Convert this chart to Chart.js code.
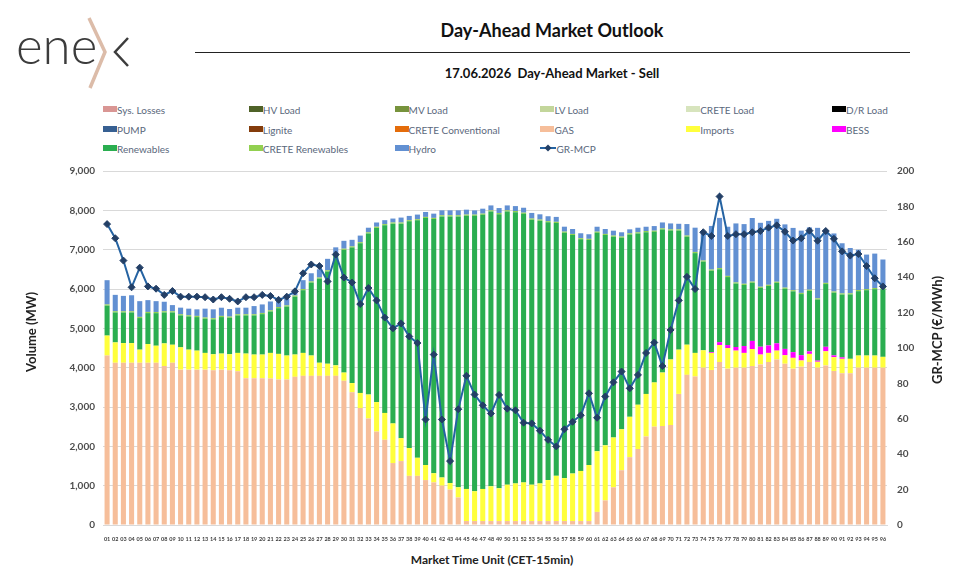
<!DOCTYPE html>
<html>
<head>
<meta charset="utf-8">
<script src="https://cdn.jsdelivr.net/npm/chart.js@4.4.1/dist/chart.umd.min.js"></script>
<style>
  body { margin: 0; width: 966px; height: 584px; background: #fff; position: relative; overflow: hidden; font-family: Lato, "Open Sans", sans-serif; }
  #logo { position: absolute; left: 0; top: 0; }
  #title { position: absolute; left: 352px; width: 400px; top: 19px; text-align: center; font-size: 18px; font-weight: bold; color: #111; }
  #rule { position: absolute; left: 195px; width: 715px; top: 52px; height: 0; border-top: 1px solid #222; }
  #subtitle { position: absolute; left: 352px; width: 400px; top: 65px; text-align: center; font-size: 13px; font-weight: bold; color: #111; white-space: pre; }
  .leg { position: absolute; font-size: 10px; color: #5a687c; white-space: nowrap; line-height: 12px; }
  .leg .sw { display: inline-block; width: 14px; height: 6px; vertical-align: 2px; }
  .leg svg { vertical-align: 1px; }
  #wrap { position: absolute; left: 0; top: 155px; }
  .ytitle { position: absolute; width: 160px; text-align: center; font-size: 13px; font-weight: bold; color: #222; transform: rotate(-90deg); }
  #xtitle { position: absolute; left: 342px; width: 300px; top: 552px; text-align: center; font-size: 12px; font-weight: bold; color: #222; }
</style>
</head>
<body>
<svg id="logo" width="140" height="100">
  <text x="16" y="64" font-family="Lato, 'Open Sans', sans-serif" font-weight="300" font-size="51" fill="#3c3c3c">ene</text>
  <polyline points="89,18 105,52 90,88" fill="none" stroke="#dcbca9" stroke-width="3.5"/>
  <polyline points="128,38 115,52 128,66" fill="none" stroke="#3c3c3c" stroke-width="2.5"/>
</svg>
<div id="title">Day-Ahead Market Outlook</div>
<div id="rule"></div>
<div id="subtitle">17.06.2026  Day-Ahead Market - Sell</div>
<div id="legend"></div>
<div id="wrap"><canvas id="damChart" width="966" height="390"></canvas></div>
<div class="ytitle" id="ylTitle" style="left:-49px; top:324px;">Volume (MW)</div>
<div class="ytitle" id="yrTitle" style="left:857px; top:322px;">GR-MCP (€/MWh)</div>
<div id="xtitle">Market Time Unit (CET-15min)</div>

<script>
const mtu = [];
for (let i = 1; i <= 96; i++) mtu.push(String(i).padStart(2, "0"));

const gas = [
  4308, 4125, 4125, 4125, 4125, 4125, 4125, 4042, 4125, 3950, 3950, 3950,
  3950, 3933, 3950, 3933, 3908, 3733, 3733, 3733, 3725, 3700, 3700, 3767,
  3792, 3792, 3792, 3792, 3792, 3667, 3375, 2975, 2708, 2375, 2167, 1575,
  1625, 1250, 1250, 1142, 1083, 1000, 900, 700, 100, 100, 100, 100,
  100, 100, 100, 100, 100, 100, 100, 100, 100, 100, 100, 100,
  333, 625, 958, 1392, 1725, 1933, 2250, 2500, 2517, 2542, 3333, 3817,
  3775, 4000, 3942, 4142, 3975, 4000, 4000, 4042, 4083, 4142, 4208, 4100,
  3975, 4025, 4142, 4000, 4058, 3917, 3858, 3858, 4000, 4000, 4000, 4000
];

const imports = [
  508, 517, 500, 500, 333, 475, 433, 575, 458, 567, 508, 483,
  425, 408, 408, 408, 467, 625, 600, 600, 650, 650, 608, 567,
  583, 517, 333, 308, 267, 208, 233, 383, 608, 750, 683, 1008,
  583, 708, 458, 383, 233, 208, 167, 259, 817, 758, 817, 883,
  833, 925, 958, 983, 925, 958, 1042, 1150, 1092, 1208, 1275, 1425,
  1542, 1400, 1267, 1042, 1025, 1125, 1083, 1125, 1358, 1667, 1125, 767,
  600, 442, 433, 433, 525, 433, 375, 433, 250, 233, 225, 217,
  275, 158, 208, 150, 358, 350, 367, 367, 308, 308, 308, 275
];

const bess = [
  0, 0, 0, 0, 0, 0, 0, 0, 0, 0, 0, 0,
  0, 0, 0, 0, 0, 0, 0, 0, 0, 0, 0, 0,
  0, 0, 0, 0, 0, 0, 0, 0, 0, 0, 0, 0,
  0, 0, 0, 0, 0, 0, 0, 0, 0, 0, 0, 0,
  0, 0, 0, 0, 0, 0, 0, 0, 0, 0, 0, 0,
  0, 0, 0, 0, 0, 0, 0, 0, 0, 0, 0, 0,
  0, 0, 20, 75, 75, 92, 175, 205, 200, 190, 185, 160,
  145, 135, 65, 30, 115, 45, 38, 0, 0, 0, 0, 0
];

const renewables = [
  761, 762, 778, 778, 803, 787, 828, 787, 820, 812, 845, 853,
  870, 887, 928, 928, 953, 970, 995, 1028, 1053, 1162, 1245, 1470,
  1595, 1853, 2137, 2345, 2828, 3120, 3445, 3803, 4095, 4428, 4770, 5078,
  5453, 5762, 6037, 6278, 6462, 6637, 6778, 6887, 6945, 7003, 6970, 6987,
  6970, 6945, 6895, 6828, 6737, 6678, 6553, 6428, 6237, 6062, 5887, 5720,
  5553, 5345, 5103, 4870, 4637, 4353, 4112, 3828, 3637, 3278, 3028, 2745,
  2537, 2253, 2070, 1853, 1728, 1612, 1553, 1478, 1495, 1512, 1537, 1528,
  1545, 1553, 1537, 1553, 1595, 1595, 1595, 1637, 1637, 1662, 1687, 1720
];

const creteRenewables = [
  30, 30, 30, 30, 30, 30, 30, 30, 30, 30, 30, 30,
  30, 30, 30, 30, 30, 30, 30, 30, 30, 30, 30, 30,
  30, 30, 30, 30, 30, 30, 30, 30, 30, 30, 30, 30,
  30, 30, 30, 30, 30, 30, 30, 30, 30, 30, 30, 30,
  30, 30, 30, 30, 30, 30, 30, 30, 30, 30, 30, 30,
  30, 30, 30, 30, 30, 30, 30, 30, 30, 30, 30, 30,
  30, 30, 30, 30, 30, 30, 30, 30, 30, 30, 30, 30,
  30, 30, 30, 30, 30, 30, 30, 30, 30, 30, 30, 30
];

const hydro = [
  617, 417, 392, 408, 400, 300, 275, 242, 158, 167, 167, 167,
  225, 225, 208, 192, 167, 167, 208, 217, 225, 150, 167, 80,
  225, 208, 208, 292, 142, 200, 167, 167, 117, 108, 100, 100,
  125, 108, 117, 125, 108, 125, 125, 125, 125, 108, 125, 125,
  125, 125, 125, 125, 142, 133, 125, 125, 125, 125, 125, 117,
  125, 125, 125, 108, 100, 117, 108, 117, 150, 150, 142, 292,
  617, 750, 1108, 1275, 1250, 1500, 1517, 1617, 1625, 1625, 1600, 1608,
  1583, 1583, 1583, 1792, 1333, 1475, 1275, 1150, 1025, 875, 875, 725
];

const grMcp = [
  170.0, 162.0, 149.4, 134.3, 145.4, 134.8, 133.5, 130.0, 132.2, 129.0, 129.0, 129.0,
  128.7, 127.4, 128.7, 127.8, 126.3, 128.7, 128.7, 130.0, 129.4, 127.2, 129.0, 132.0,
  142.2, 147.2, 146.3, 137.6, 152.8, 139.8, 137.0, 124.8, 133.9, 126.9, 117.2, 111.1,
  113.9, 106.5, 102.8, 59.6, 96.3, 59.6, 36.1, 65.4, 84.3, 73.7, 67.6, 63.0,
  73.5, 65.7, 64.8, 57.8, 57.4, 53.3, 48.1, 44.4, 54.1, 58.3, 62.0, 74.4,
  60.6, 72.6, 80.6, 86.7, 77.2, 84.8, 97.2, 103.1, 89.8, 110.2, 126.9, 140.2,
  133.3, 165.4, 163.3, 185.6, 163.3, 164.3, 164.3, 165.4, 166.1, 168.0, 169.3, 165.7,
  160.7, 162.0, 166.3, 160.6, 166.1, 161.7, 154.6, 152.2, 153.1, 146.3, 139.4, 134.8
];

// legend-only categories (no sell volume on this day)
const emptySeries = [
  ["Sys. Losses", "#d99694"],
  ["HV Load", "#4f6228"],
  ["MV Load", "#77933c"],
  ["LV Load", "#c3d69b"],
  ["CRETE Load", "#d7e4bd"],
  ["D/R Load", "#000000"],
  ["PUMP", "#376092"],
  ["Lignite", "#843c0c"],
  ["CRETE Conventional", "#e46c0a"]
];

function bar(label, data, color) {
  return {
    type: "bar",
    label,
    data,
    backgroundColor: color,
    borderWidth: 0,
    yAxisID: "y",
    stack: "sell",
    order: 1,
    barPercentage: 0.62,
    categoryPercentage: 1.0,
  };
}

const datasets = emptySeries.map(([label, color]) => bar(label, [], color));
datasets.push(bar("GAS", gas, "#f6be9a"));
datasets.push(bar("Imports", imports, "#ffff3c"));
datasets.push(bar("BESS", bess, "#ff00ff"));
datasets.push(bar("Renewables", renewables, "#2aae50"));
datasets.push(bar("CRETE Renewables", creteRenewables, "#92d050"));
datasets.push(bar("Hydro", hydro, "#6290d2"));
datasets.push({
  type: "line",
  label: "GR-MCP",
  data: grMcp,
  yAxisID: "y1",
  borderColor: "#2563a2",
  borderWidth: 2,
  pointStyle: "rectRot",
  pointRadius: 3.5,
  pointBackgroundColor: "#233f66",
  pointBorderColor: "#233f66",
  pointBorderWidth: 1,
  tension: 0,
  order: 0,
});

const tickFont = { family: "Lato, 'Open Sans', sans-serif", size: 10, weight: "bold" };

const chart = new Chart(document.getElementById("damChart"), {
  data: { labels: mtu, datasets },
  options: {
    responsive: false,
    animation: false,
    devicePixelRatio: 1,
    layout: { padding: { top: 10, left: 0, right: 0, bottom: 0 } },
    plugins: { legend: { display: false }, tooltip: { enabled: false } },
    scales: {
      x: {
        stacked: true,
        afterFit: (s) => { s.height = 20; },
        grid: { display: false },
        border: { color: "#d9d9d9" },
        ticks: {
          autoSkip: false,
          maxRotation: 0,
          minRotation: 0,
          padding: 3,
          color: "#404040",
          font: { family: "Lato, sans-serif", size: 5.5, weight: "bold" },
        },
      },
      y: {
        stacked: true,
        position: "left",
        min: 0,
        max: 9000,
        afterFit: (s) => { s.width = 103; },
        grid: { color: "#d9d9d9", drawTicks: false },
        border: { display: false },
        ticks: {
          stepSize: 1000,
          padding: 8,
          color: "#4d4d4d",
          font: tickFont,
          callback: (v) => v.toLocaleString("en-US"),
        },
      },
      y1: {
        position: "right",
        min: 0,
        max: 200,
        afterFit: (s) => { s.width = 79; },
        grid: { display: false, drawTicks: false },
        border: { display: false },
        ticks: { stepSize: 20, padding: 10, color: "#4d4d4d", font: tickFont },
      },
    },
  },
});

// legend in 6 columns, built from the chart's datasets
const legendEl = document.getElementById("legend");
chart.data.datasets.forEach((ds, i) => {
  const item = document.createElement("div");
  item.className = "leg";
  item.style.left = 103 + (i % 6) * 145.8 + "px";
  item.style.top = 104 + Math.floor(i / 6) * 19.7 + "px";
  if (ds.type === "line") {
    item.innerHTML =
      '<svg width="16" height="8"><line x1="0" y1="4" x2="16" y2="4" stroke="' + ds.borderColor +
      '" stroke-width="2"/><polygon points="8,0.5 11.5,4 8,7.5 4.5,4" fill="' + ds.pointBackgroundColor +
      '"/></svg>';
  } else {
    item.innerHTML = '<span class="sw" style="background:' + ds.backgroundColor + '"></span>';
  }
  item.appendChild(document.createTextNode(ds.label));
  legendEl.appendChild(item);
});
</script>
</body>
</html>
